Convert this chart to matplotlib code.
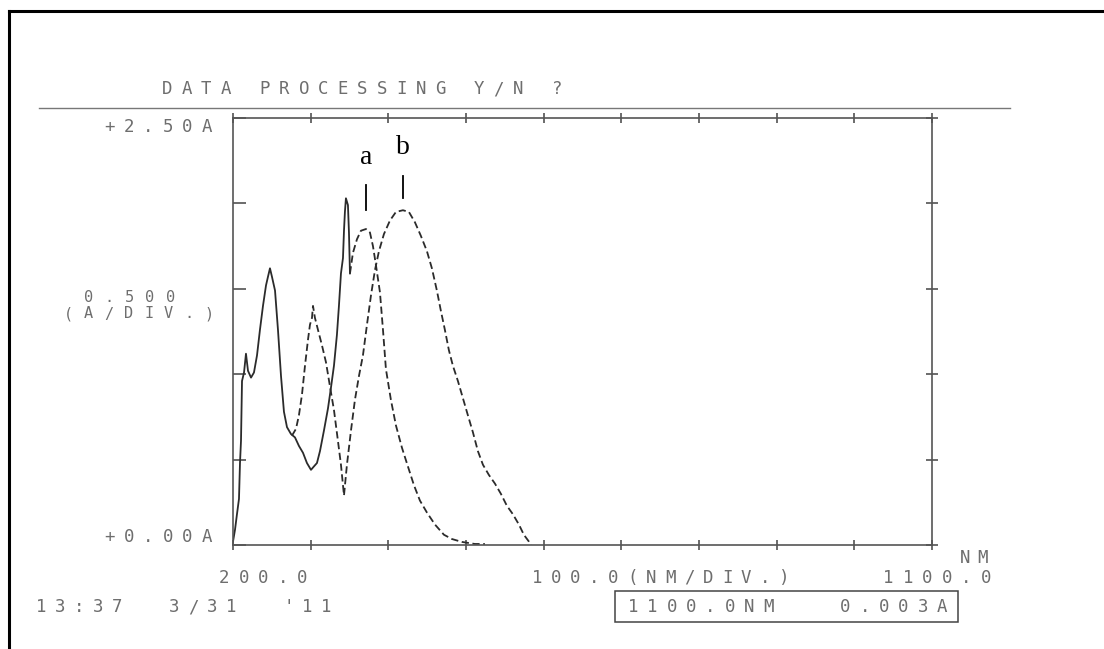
import numpy as np
import matplotlib.pyplot as plt

# --- 스펙트럼 데이터 ---
# a: 단파장 영역은 실선, 피크 a 부근부터 점선
a_solid_nm = [200.0, 202.6, 205.1, 207.7, 209.0, 210.3, 211.6, 214.2, 216.7, 219.3,
              223.2, 227.0, 230.9, 234.7, 238.6, 242.5, 245.0, 247.6, 250.2, 254.1,
              257.9, 261.8, 265.6, 269.5, 274.6, 279.8, 284.9, 290.1, 295.2, 300.4,
              304.2, 308.1, 312.0, 317.1, 322.3, 326.1, 330.0, 333.8, 336.4, 339.0,
              341.6, 342.9, 344.1, 345.4, 348.0, 349.3, 350.6]
a_solid_abs = [0.02, 0.09, 0.18, 0.27, 0.48, 0.61, 0.96, 1.01, 1.12, 1.02,
               0.98, 1.01, 1.11, 1.26, 1.40, 1.52, 1.57, 1.62, 1.57, 1.49,
               1.26, 0.99, 0.78, 0.69, 0.65, 0.63, 0.58, 0.54, 0.48, 0.44,
               0.46, 0.48, 0.55, 0.67, 0.80, 0.92, 1.05, 1.23, 1.40, 1.59,
               1.68, 1.84, 1.95, 2.03, 1.99, 1.83, 1.59]
a_dash_nm = [350.6, 354.4, 359.6, 364.7, 371.2, 376.3, 380.2, 384.0, 389.2, 393.1,
             396.9, 403.3, 409.8, 417.5, 425.2, 433.0, 440.7, 449.7, 460.0, 471.6,
             481.9, 494.7, 511.5, 524.3]
a_dash_abs = [1.59, 1.71, 1.79, 1.84, 1.85, 1.83, 1.75, 1.64, 1.48, 1.26,
              1.03, 0.85, 0.70, 0.57, 0.46, 0.35, 0.26, 0.19, 0.12, 0.06,
              0.035, 0.018, 0.006, 0.006]
b_nm = [275.9, 281.1, 284.9, 288.8, 292.7, 296.5, 299.1, 301.7, 303.0, 305.5,
        309.4, 314.5, 319.7, 324.8, 330.0, 335.1, 339.0, 341.6, 342.9, 346.7,
        351.9, 357.0, 362.2, 367.3, 372.5, 377.6, 382.8, 387.9, 394.3, 402.1,
        409.8, 418.8, 426.5, 434.2, 441.9, 449.7, 456.1, 462.5, 467.7, 472.8,
        478.0, 483.1, 489.6, 496.0, 502.4, 508.9, 515.3, 521.8, 529.5, 537.2,
        544.9, 552.6, 560.4, 568.1, 574.5, 581.0, 583.5]
b_abs = [0.64, 0.68, 0.76, 0.88, 1.05, 1.20, 1.29, 1.33, 1.40, 1.33,
         1.26, 1.17, 1.07, 0.93, 0.79, 0.61, 0.47, 0.35, 0.29, 0.47,
         0.67, 0.85, 0.99, 1.11, 1.29, 1.46, 1.61, 1.72, 1.82, 1.90,
         1.95, 1.96, 1.95, 1.89, 1.81, 1.72, 1.62, 1.49, 1.37, 1.26,
         1.14, 1.05, 0.96, 0.86, 0.76, 0.66, 0.55, 0.47, 0.41, 0.36,
         0.30, 0.23, 0.18, 0.12, 0.06, 0.02, 0.0]

# 피크 표시 (a, b)
peak_names = ['a', 'b']
peak_nm = [371, 419]
peak_mark_lo = [1.96, 2.03]
peak_mark_hi = [2.11, 2.16]
peak_label_y = [2.27, 2.33]

W, H = 1104, 649
fig = plt.figure(figsize=(W / 100, H / 100), dpi=100)
fig.patch.set_facecolor('white')

# 배경 레이어: 픽셀 좌표로 텍스트/테두리
bg = fig.add_axes([0, 0, 1, 1])
bg.set_xlim(0, W)
bg.set_ylim(H, 0)
bg.axis('off')

TXT = '#6e6e6e'


def dm_text(x, y, s, pitch=19.5, size=12.5):
    # 도트 프린터처럼 글자 간격을 넓게
    for i, ch in enumerate(s):
        if ch != ' ':
            bg.text(x + i * pitch, y, ch, ha='left', va='center',
                    family='DejaVu Sans Mono', fontsize=size, color=TXT)


# 바깥 테두리 (왼쪽, 위)
bg.plot([9, 9], [11, H], color='black', lw=2.2)
bg.plot([9, W], [11, 11], color='black', lw=2.2)
# 구분선
bg.plot([39, 1010], [108, 108], color='#777777', lw=1.0)

dm_text(162, 89, 'DATA PROCESSING Y/N ?')
dm_text(104, 127, '+2.50A')
dm_text(104, 537, '+0.00A')
dm_text(84, 297, '0.500', pitch=20.5, size=11)
dm_text(64, 314, '(A/DIV.)', pitch=20, size=11)
dm_text(219, 578, '200.0')
dm_text(532, 578, '100.0(NM/DIV.)', pitch=19.0)
dm_text(883, 578, '1100.0')
dm_text(960, 558, 'NM', pitch=17)
dm_text(36, 607, '13:37  3/31  \'11', pitch=19.0)
dm_text(628, 607, '1100.0NM   0.003A', pitch=19.3)
bg.add_patch(plt.Rectangle((615, 591), 343, 31, fill=False, ec='#444444', lw=1.1))

# --- 스펙트럼 축 ---
ax = fig.add_axes([233 / W, 1 - 545 / H, 699 / W, 427 / H])
ax.set_facecolor('none')
ax.set_xlim(200, 1100)
ax.set_ylim(0, 2.5)
for sp in ax.spines.values():
    sp.set_color('#555555')
    sp.set_linewidth(1.2)
ax.set_xticks(np.arange(200, 1101, 100))
ax.set_yticks(np.arange(0, 2.51, 0.5))
ax.set_xticklabels([])
ax.set_yticklabels([])
ax.tick_params(axis='x', which='both', bottom=True, top=True, direction='inout',
               length=7, width=1.1, color='#444444')
ax.tick_params(axis='y', left=True, right=False, direction='in',
               length=9, width=1.1, color='#444444')
ax2 = ax.secondary_yaxis('right')
ax2.set_yticks(np.arange(0, 2.51, 0.5))
ax2.set_yticklabels([])
ax2.tick_params(direction='inout', length=9, width=1.1, color='#444444')
ax2.spines['right'].set_visible(False)

line_col = '#2b2b2b'
ax.plot(a_solid_nm, a_solid_abs, color=line_col, lw=1.3)
ax.plot(a_dash_nm, a_dash_abs, color=line_col, lw=1.3, ls=(0, (4, 2)))
ax.plot(b_nm, b_abs, color=line_col, lw=1.3, ls=(0, (4, 2)))

for name, x, lo, hi, ly in zip(peak_names, peak_nm, peak_mark_lo, peak_mark_hi, peak_label_y):
    ax.plot([x, x], [lo, hi], color='black', lw=1.3)
    ax.text(x, ly, name, ha='center', va='center', family='Liberation Serif',
            fontsize=20, color='black')

fig.savefig('out.png', dpi=100)
